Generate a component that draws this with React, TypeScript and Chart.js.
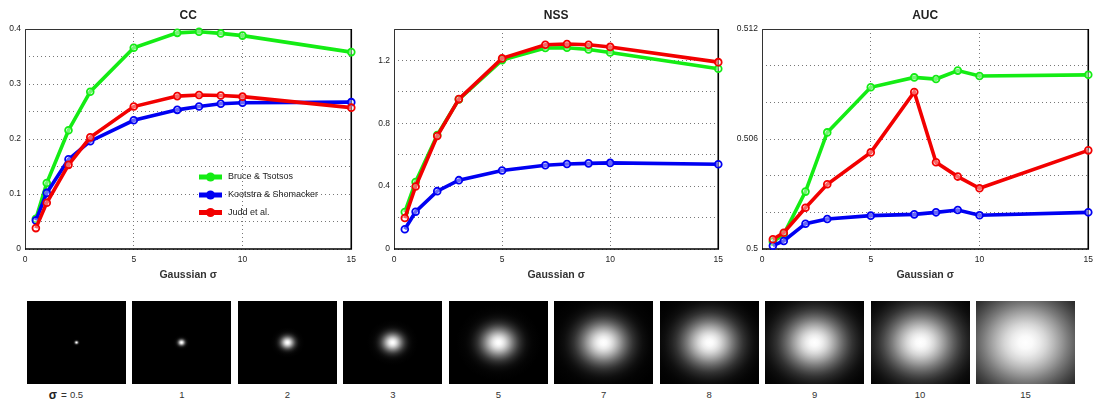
import React, { useEffect, useRef } from 'react';
import { Chart, registerables } from 'chart.js';

Chart.register(...registerables);

// ---------- data ----------
const sigmas = [0.5, 1, 2, 3, 5, 7, 8, 9, 10, 15];
const seriesNames = ['Bruce & Tsotsos', 'Kootstra & Shomacker', 'Judd et al.'];
const seriesColors = ['#14ec14', '#0000f2', '#f20000'];

const ccBruce = [0.055, 0.12, 0.216, 0.286, 0.366, 0.393, 0.395, 0.392, 0.388, 0.358];
const ccKootstra = [0.052, 0.102, 0.163, 0.196, 0.234, 0.253, 0.259, 0.264, 0.266, 0.267];
const ccJudd = [0.038, 0.084, 0.153, 0.203, 0.259, 0.278, 0.28, 0.279, 0.277, 0.257];

const nssBruce = [0.235, 0.426, 0.725, 0.952, 1.202, 1.279, 1.281, 1.27, 1.251, 1.147];
const nssKootstra = [0.126, 0.237, 0.368, 0.438, 0.5, 0.533, 0.541, 0.545, 0.548, 0.539];
const nssJudd = [0.197, 0.398, 0.719, 0.954, 1.213, 1.3, 1.305, 1.3, 1.286, 1.189];

const aucBruce = [0.5004, 0.5008, 0.50313, 0.50636, 0.50882, 0.50936, 0.50927, 0.50973, 0.50944, 0.5095];
const aucKootstra = [0.50018, 0.50044, 0.50138, 0.50164, 0.50182, 0.50189, 0.502, 0.50213, 0.50184, 0.502];
const aucJudd = [0.50053, 0.50089, 0.50225, 0.50353, 0.50527, 0.50856, 0.50473, 0.50395, 0.50331, 0.50538];

const xTicks = [0, 5, 10, 15];
const ccYLabels = ['0', '0.1', '0.2', '0.3', '0.4'];
const nssYLabels = ['0', '0.4', '0.8', '1.2'];
const aucYLabels = ['0.5', '0.506', '0.512'];

const blobSigmas = [0.5, 1, 2, 3, 5, 7, 8, 9, 10, 15];
const blobLabels = ['0.5', '1', '2', '3', '5', '7', '8', '9', '10', '15'];

// ---------- styling ----------
const FONT = '"Liberation Sans", Arial, Helvetica, sans-serif';

const decoPlugin = {
  id: 'deco',
  beforeDatasetsDraw(chart: any) {
    const { ctx, chartArea: a } = chart;
    ctx.save();
    ctx.strokeStyle = '#333';
    ctx.lineWidth = 1;
    ctx.beginPath();
    ctx.moveTo(a.left + 0.5, a.bottom);
    ctx.lineTo(a.left + 0.5, a.top + 0.5);
    ctx.lineTo(a.right, a.top + 0.5);
    ctx.stroke();
    ctx.strokeStyle = '#000';
    ctx.lineWidth = 1.6;
    ctx.beginPath();
    ctx.moveTo(a.left, a.bottom);
    ctx.lineTo(a.right, a.bottom);
    ctx.lineTo(a.right, a.top);
    ctx.stroke();
    ctx.restore();
  },
  afterDraw(chart: any, _args: any, opts: any) {
    const { ctx, chartArea: a } = chart;
    ctx.save();
    ctx.fillStyle = '#222';
    ctx.font = `bold 12px ${FONT}`;
    ctx.textAlign = 'center';
    ctx.textBaseline = 'middle';
    ctx.fillText(opts.title, (a.left + a.right) / 2, 16);
    if (opts.legend) {
      const x0 = a.left + 174;
      const x1 = a.left + 197;
      const ys = [177, 195, 212.5];
      chart.data.datasets.forEach((ds: any, i: number) => {
        const y = ys[i];
        ctx.strokeStyle = ds.borderColor;
        ctx.lineWidth = 5;
        ctx.beginPath();
        ctx.moveTo(x0, y);
        ctx.lineTo(x1, y);
        ctx.stroke();
        ctx.fillStyle = ds.borderColor;
        ctx.beginPath();
        ctx.arc((x0 + x1) / 2, y, 4.5, 0, Math.PI * 2);
        ctx.fill();
        ctx.fillStyle = '#222';
        ctx.font = `9px ${FONT}`;
        ctx.textAlign = 'left';
        ctx.fillText(ds.label, x1 + 6, y);
      });
    }
    ctx.restore();
  },
};

function makeDatasets(values: number[][]) {
  return values.map((vals, i) => ({
    label: seriesNames[i],
    data: vals.map((v, j) => ({ x: sigmas[j], y: v })),
    borderColor: seriesColors[i],
    backgroundColor: seriesColors[i],
    borderWidth: 3.6,
    pointRadius: 3.4,
    pointBorderWidth: 1.8,
    pointBackgroundColor: 'rgba(255,255,255,0.4)',
    pointBorderColor: seriesColors[i],
    tension: 0,
    order: 2 - i,
    clip: false,
  }));
}

type PanelProps = {
  left: number;
  width: number;
  rightPad: number;
  yWidth: number;
  title: string;
  values: number[][];
  yMin: number;
  yMax: number;
  yStep: number;
  yLabels: string[];
  legend?: boolean;
};

function Panel(p: PanelProps) {
  const ref = useRef<HTMLCanvasElement | null>(null);
  const height = 287;
  useEffect(() => {
    if (!ref.current) return;
    const tickFont = { family: FONT, size: 8.5 };
    const gridCfg = { color: '#777', lineWidth: 1, drawTicks: false };
    const chart = new Chart(ref.current, {
      type: 'line',
      data: { datasets: makeDatasets(p.values) as any },
      plugins: [decoPlugin as any],
      options: {
        animation: false,
        responsive: false,
        maintainAspectRatio: false,
        devicePixelRatio: 1,
        layout: { padding: { top: 29, right: p.rightPad, left: 0, bottom: 0 } },
        plugins: {
          legend: { display: false },
          tooltip: { enabled: false },
          title: { display: false },
          deco: { title: p.title, legend: !!p.legend },
        } as any,
        scales: {
          x: {
            type: 'linear',
            min: xTicks[0],
            max: xTicks[xTicks.length - 1],
            afterBuildTicks: (s: any) => {
              s.ticks = xTicks.map((v) => ({ value: v }));
            },
            ticks: { font: tickFont, color: '#222', padding: 6, maxRotation: 0, autoSkip: false },
            grid: gridCfg,
            border: { display: false, dash: [1, 3] },
            title: {
              display: true,
              text: 'Gaussian σ',
              color: '#333',
              font: { family: FONT, size: 10.5, weight: 'bold' },
              padding: { top: 4, bottom: 6 },
            },
            afterFit: (s: any) => {
              s.height = 38;
            },
          },
          y: {
            type: 'linear',
            min: p.yMin,
            max: p.yMax,
            ticks: {
              stepSize: p.yStep,
              autoSkip: false,
              font: tickFont,
              color: '#222',
              padding: 4,
              callback: (v: any) => {
                const hit = p.yLabels.find((l) => Math.abs(parseFloat(l) - Number(v)) < p.yStep / 100);
                return hit === undefined ? '' : hit;
              },
            },
            grid: gridCfg,
            border: { display: false, dash: [1, 3] },
            afterFit: (s: any) => {
              s.width = p.yWidth;
            },
          },
        },
      } as any,
    });
    return () => chart.destroy();
  }, []);
  return (
    <canvas
      ref={ref}
      width={p.width}
      height={height}
      style={{ position: 'absolute', left: p.left, top: 0, width: p.width, height }}
    />
  );
}

function blobBackground(sigma: number) {
  const sx = sigma * 2.35;
  const sy = sx * 0.9;
  const k = 3.6;
  const stops: string[] = [];
  const n = 18;
  for (let i = 0; i <= n; i++) {
    const t = i / n;
    const r = k * t;
    const v = Math.round(255 * Math.exp((-r * r) / 2));
    stops.push(`rgb(${v},${v},${v}) ${(t * 100).toFixed(2)}%`);
  }
  return `radial-gradient(ellipse ${(k * sx).toFixed(2)}px ${(k * sy).toFixed(2)}px at 50% 50%, ${stops.join(', ')})`;
}

function BlobRow() {
  return (
    <>
      {blobSigmas.map((s, i) => {
        const left = 27 + i * 105.45;
        return (
          <React.Fragment key={i}>
            <div
              style={{
                position: 'absolute',
                left,
                top: 301,
                width: 99,
                height: 83,
                backgroundColor: '#000',
                backgroundImage: blobBackground(s),
              }}
            />
            <div
              style={{
                position: 'absolute',
                left,
                top: 389,
                width: 99,
                textAlign: 'center',
                fontFamily: FONT,
                fontSize: 9.5,
                lineHeight: '12px',
                color: '#333',
              }}
            >
              <span style={{ position: 'relative' }}>
                {i === 0 && (
                  <span
                    style={{
                      position: 'absolute',
                      right: '100%',
                      top: 0,
                      whiteSpace: 'nowrap',
                      paddingRight: 3,
                      fontSize: 10,
                    }}
                  >
                    <span style={{ fontSize: 12, fontWeight: 'bold', color: '#222' }}>σ</span>
                    <span style={{ marginLeft: 4 }}>=</span>
                  </span>
                )}
                {blobLabels[i]}
              </span>
            </div>
          </React.Fragment>
        );
      })}
    </>
  );
}

export default function App() {
  return (
    <div
      style={{
        position: 'absolute',
        left: 0,
        top: 0,
        width: 1094,
        height: 401,
        overflow: 'hidden',
        background: '#fff',
      }}
    >
      <Panel
        left={0}
        width={362}
        rightPad={6}
        yWidth={25}
        title="CC"
        values={[ccBruce, ccKootstra, ccJudd]}
        yMin={0}
        yMax={0.4}
        yStep={0.05}
        yLabels={ccYLabels}
        legend
      />
      <Panel
        left={369}
        width={360}
        rightPad={6}
        yWidth={25}
        title="NSS"
        values={[nssBruce, nssKootstra, nssJudd]}
        yMin={0}
        yMax={1.4}
        yStep={0.2}
        yLabels={nssYLabels}
      />
      <Panel
        left={735}
        width={364}
        rightPad={6}
        yWidth={27}
        title="AUC"
        values={[aucBruce, aucKootstra, aucJudd]}
        yMin={0.5}
        yMax={0.512}
        yStep={0.002}
        yLabels={aucYLabels}
      />
      <BlobRow />
    </div>
  );
}
